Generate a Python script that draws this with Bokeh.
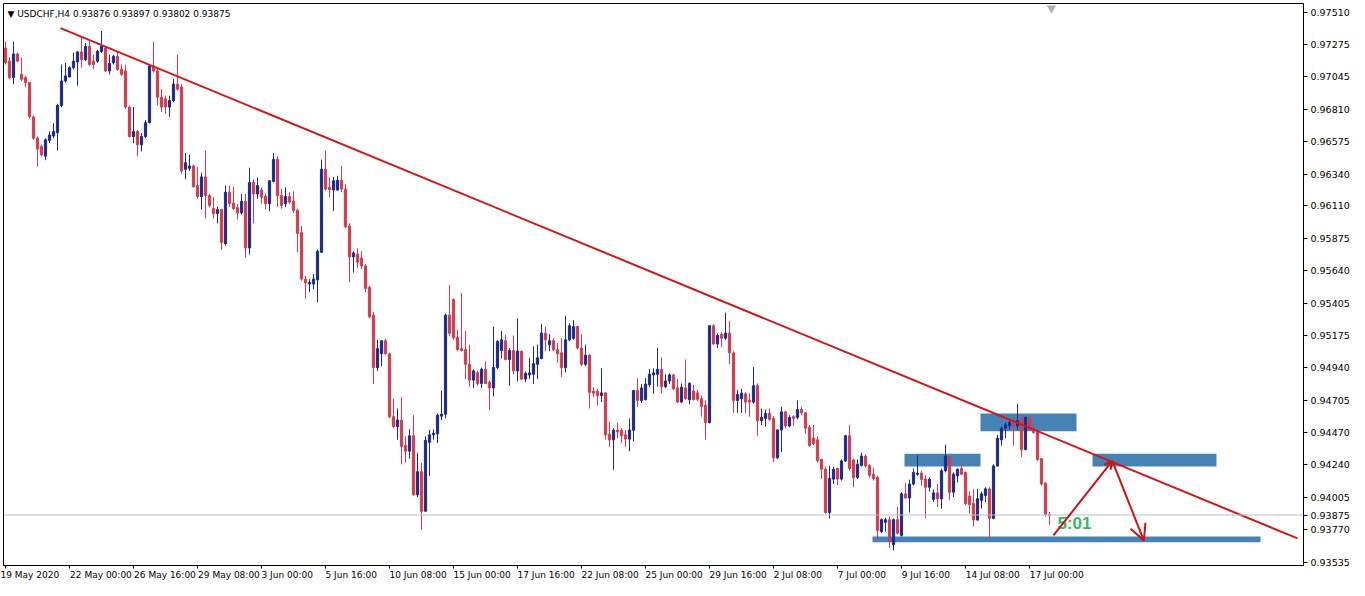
from bokeh.plotting import figure
from bokeh.models import (ColumnDataSource, FixedTicker, NumeralTickFormatter, Range1d,
                          Span, Label, Arrow, OpenHead)
from bokeh.embed import file_html
from bokeh.resources import INLINE
from bokeh.core.properties import value

symbol_header = "\u25bc USDCHF,H4  0.93876 0.93897 0.93802 0.93875"

opens = [0.97252,0.97157,0.97039,0.97209,0.97062,0.97039,0.97003,0.96754,0.96600,0.96541,
0.96470,0.96584,0.96616,0.96640,0.96837,0.97014,0.97043,0.97110,0.97152,0.97224,
0.97169,0.97263,0.97157,0.97157,0.97228,0.97252,0.97086,0.97145,0.97192,0.97098,
0.97086,0.96825,0.96612,0.96648,0.96552,0.96612,0.96712,0.97121,0.97086,0.96896,
0.96884,0.96825,0.96872,0.96991,0.96970,0.96375,0.96382,0.96399,0.96257,0.96178,
0.96320,0.96185,0.96090,0.96055,0.96083,0.95837,0.96209,0.96131,0.96097,0.96060,
0.96143,0.95806,0.96280,0.96197,0.96225,0.96180,0.96126,0.96287,0.96446,0.96185,
0.96126,0.96178,0.96145,0.96079,0.95917,0.95581,0.95546,0.95546,0.95576,0.95775,
0.96375,0.96244,0.96225,0.96225,0.96296,0.96232,0.95965,0.95742,0.95761,0.95733,
0.95676,0.95521,0.95320,0.94941,0.95041,0.95135,0.95041,0.94586,0.94515,0.94562,
0.94377,0.94337,0.94448,0.94021,0.94188,0.93903,0.94401,0.94455,0.94462,0.94590,
0.94604,0.95320,0.95434,0.95159,0.95078,0.95071,0.94965,0.94851,0.94903,0.94827,
0.94929,0.94835,0.94794,0.94941,0.95064,0.95135,0.95000,0.95064,0.94917,0.95059,
0.94858,0.94888,0.94893,0.94965,0.95007,0.95190,0.95107,0.95135,0.95071,0.95048,
0.94941,0.95142,0.95154,0.95237,0.95083,0.94965,0.95031,0.94771,0.94771,0.94739,
0.94758,0.94460,0.94419,0.94488,0.94488,0.94455,0.94424,0.94488,0.94775,0.94704,
0.94709,0.94817,0.94888,0.94893,0.94929,0.94803,0.94844,0.94888,0.94794,0.94692,
0.94794,0.94709,0.94771,0.94758,0.94716,0.94668,0.94543,0.95244,0.95112,0.95183,
0.95154,0.95190,0.95048,0.94704,0.94716,0.94751,0.94704,0.94692,0.94810,0.94557,
0.94574,0.94609,0.94574,0.94289,0.94490,0.94621,0.94519,0.94586,0.94581,0.94638,
0.94614,0.94510,0.94431,0.94419,0.94277,0.94206,0.93893,0.94135,0.94211,0.94135,
0.94266,0.94448,0.94273,0.94147,0.94234,0.94301,0.94234,0.94170,0.94147,0.93756,
0.93822,0.93841,0.93661,0.93841,0.93728,0.94028,0.93998,0.94099,0.94170,0.94178,
0.94135,0.94076,0.93988,0.94035,0.93993,0.94195,0.94296,0.94040,0.94159,0.94211,
0.94183,0.94012,0.93957,0.93839,0.93981,0.94017,0.94064,0.93851,0.94230,0.94419,
0.94503,0.94519,0.94550,0.94519,0.94574,0.94348,0.94581,0.94503,0.94479,0.94282,
0.94106,0.93876]

highs = [0.97299,0.97183,0.97299,0.97219,0.97183,0.97050,0.97006,0.96763,0.96614,0.96552,
0.96600,0.96650,0.96707,0.96849,0.97133,0.97145,0.97121,0.97219,0.97228,0.97334,
0.97288,0.97299,0.97204,0.97240,0.97375,0.97263,0.97204,0.97204,0.97228,0.97133,
0.97133,0.96837,0.96825,0.96659,0.96636,0.96730,0.97133,0.97299,0.97110,0.96955,
0.96908,0.96908,0.97027,0.97204,0.96991,0.96493,0.96481,0.96410,0.96392,0.96351,
0.96510,0.96197,0.96173,0.96102,0.96090,0.96257,0.96257,0.96249,0.96126,0.96197,
0.96197,0.96387,0.96303,0.96316,0.96244,0.96197,0.96296,0.96493,0.96470,0.96232,
0.96244,0.96209,0.96216,0.96090,0.95965,0.95605,0.95581,0.95617,0.95794,0.96446,
0.96510,0.96316,0.96320,0.96328,0.96399,0.96268,0.95984,0.95782,0.95804,0.95782,
0.95690,0.95533,0.95344,0.95142,0.95140,0.95150,0.95048,0.94716,0.94645,0.94728,
0.94444,0.94495,0.94597,0.94325,0.94254,0.94444,0.94490,0.94495,0.94609,0.94775,
0.95330,0.95538,0.95441,0.95214,0.95482,0.95206,0.95107,0.94929,0.94917,0.94941,
0.94988,0.94846,0.95237,0.95142,0.95206,0.95178,0.95083,0.95173,0.95297,0.95064,
0.94913,0.95012,0.95095,0.95107,0.95254,0.95237,0.95183,0.95154,0.95119,0.95154,
0.95315,0.95261,0.95285,0.95244,0.95183,0.95107,0.95036,0.94799,0.94787,0.94936,
0.94763,0.94550,0.94503,0.94543,0.94503,0.94490,0.94574,0.94780,0.94865,0.94822,
0.94865,0.94929,0.94936,0.95083,0.95016,0.94893,0.94898,0.94893,0.94858,0.94827,
0.95000,0.94835,0.94817,0.94780,0.94739,0.94704,0.95249,0.95254,0.95190,0.95197,
0.95339,0.95278,0.95059,0.94780,0.94787,0.94763,0.94756,0.94945,0.94827,0.94645,
0.94638,0.94645,0.94590,0.94495,0.94657,0.94628,0.94597,0.94597,0.94704,0.94657,
0.94621,0.94526,0.94526,0.94444,0.94282,0.94225,0.94230,0.94225,0.94218,0.94277,
0.94455,0.94526,0.94282,0.94277,0.94325,0.94313,0.94242,0.94218,0.94161,0.93851,
0.93856,0.93863,0.93851,0.93934,0.94040,0.94106,0.94131,0.94211,0.94306,0.94195,
0.94163,0.94147,0.94060,0.94099,0.94211,0.94384,0.94301,0.94183,0.94211,0.94249,
0.94188,0.94045,0.94060,0.94064,0.94045,0.94076,0.94076,0.94242,0.94455,0.94515,
0.94543,0.94562,0.94586,0.94680,0.94604,0.94586,0.94590,0.94538,0.94486,0.94289,
0.94111,0.93897]

lows = [0.97133,0.97027,0.96991,0.97147,0.97014,0.96968,0.96742,0.96588,0.96394,0.96470,
0.96441,0.96564,0.96600,0.96510,0.96825,0.97003,0.97039,0.97098,0.96979,0.97110,
0.97157,0.97121,0.97098,0.97145,0.97216,0.97080,0.97062,0.97133,0.97086,0.97050,
0.96813,0.96605,0.96564,0.96470,0.96505,0.96600,0.96707,0.97074,0.96837,0.96790,
0.96778,0.96754,0.96861,0.96943,0.96344,0.96303,0.96363,0.96244,0.96161,0.96083,
0.96019,0.96102,0.96019,0.95984,0.95794,0.95823,0.96102,0.96079,0.96012,0.96050,
0.95735,0.95759,0.95984,0.96161,0.96126,0.96083,0.96074,0.96280,0.96102,0.96090,
0.96102,0.96126,0.96060,0.95775,0.95569,0.95439,0.95486,0.95510,0.95415,0.95770,
0.96221,0.96173,0.96074,0.96221,0.96209,0.95948,0.95562,0.95628,0.95661,0.95654,
0.95486,0.95297,0.94822,0.94917,0.94952,0.95036,0.94574,0.94503,0.94419,0.94242,
0.94254,0.94282,0.94017,0.94005,0.93768,0.93898,0.94159,0.94419,0.94396,0.94562,
0.94574,0.95166,0.95142,0.95059,0.95059,0.94858,0.94803,0.94794,0.94810,0.94794,
0.94822,0.94633,0.94732,0.94929,0.95007,0.94993,0.94810,0.94893,0.94842,0.94851,
0.94835,0.94858,0.94822,0.94858,0.95000,0.95059,0.95059,0.95059,0.94977,0.94874,
0.94906,0.95130,0.95142,0.95071,0.94952,0.94952,0.94645,0.94728,0.94668,0.94692,
0.94419,0.94367,0.94202,0.94431,0.94396,0.94367,0.94337,0.94408,0.94657,0.94685,
0.94704,0.94803,0.94751,0.94803,0.94756,0.94794,0.94822,0.94780,0.94685,0.94685,
0.94709,0.94675,0.94704,0.94699,0.94586,0.94419,0.94538,0.95107,0.95083,0.95088,
0.95142,0.94965,0.94614,0.94614,0.94614,0.94614,0.94586,0.94680,0.94448,0.94526,
0.94515,0.94557,0.94259,0.94282,0.94330,0.94503,0.94510,0.94519,0.94567,0.94597,
0.94462,0.94367,0.94380,0.94254,0.94135,0.93886,0.93851,0.94099,0.94092,0.94124,
0.94259,0.94195,0.94076,0.94135,0.94225,0.94218,0.94147,0.94124,0.93699,0.93744,
0.93756,0.93637,0.93619,0.93733,0.93720,0.93993,0.93893,0.94088,0.94159,0.94088,
0.93851,0.94045,0.93969,0.93934,0.93922,0.94183,0.93981,0.94005,0.94111,0.94163,
0.93946,0.93886,0.93792,0.93835,0.93922,0.93969,0.93708,0.93845,0.94225,0.94377,
0.94431,0.94495,0.94377,0.94490,0.94296,0.94344,0.94486,0.94462,0.94266,0.94088,
0.93863,0.93802]

closes = [0.97145,0.97039,0.97209,0.97157,0.97027,0.97003,0.96754,0.96600,0.96522,0.96481,
0.96588,0.96623,0.96648,0.96837,0.97014,0.97050,0.97110,0.97157,0.97224,0.97169,
0.97263,0.97133,0.97133,0.97228,0.97263,0.97086,0.97140,0.97192,0.97098,0.97062,
0.96825,0.96612,0.96648,0.96552,0.96612,0.96712,0.97121,0.97086,0.96896,0.96825,
0.96825,0.96872,0.96991,0.96955,0.96363,0.96422,0.96399,0.96249,0.96178,0.96320,
0.96185,0.96114,0.96055,0.96083,0.95846,0.96209,0.96126,0.96090,0.96060,0.96143,
0.95806,0.96280,0.96197,0.96257,0.96173,0.96126,0.96292,0.96446,0.96185,0.96114,
0.96178,0.96138,0.96079,0.95912,0.95581,0.95553,0.95557,0.95581,0.95782,0.96375,
0.96232,0.96228,0.96292,0.96296,0.96232,0.95960,0.95742,0.95770,0.95704,0.95676,
0.95514,0.95308,0.94941,0.95078,0.95135,0.95041,0.94586,0.94515,0.94562,0.94372,
0.94337,0.94448,0.94021,0.94188,0.93903,0.94415,0.94455,0.94467,0.94597,0.94604,
0.95320,0.95190,0.95157,0.95071,0.95064,0.94965,0.94851,0.94917,0.94827,0.94929,
0.94827,0.94794,0.94941,0.95130,0.95142,0.95000,0.95064,0.94917,0.95059,0.94858,
0.94898,0.94903,0.94970,0.95012,0.95190,0.95142,0.95135,0.95071,0.95041,0.94941,
0.95142,0.95244,0.95237,0.95083,0.94965,0.95031,0.94763,0.94756,0.94739,0.94758,
0.94455,0.94419,0.94488,0.94476,0.94448,0.94424,0.94490,0.94775,0.94704,0.94794,
0.94822,0.94893,0.94903,0.94929,0.94803,0.94844,0.94888,0.94787,0.94692,0.94799,
0.94716,0.94827,0.94709,0.94712,0.94661,0.94543,0.95244,0.95112,0.95173,0.95154,
0.95190,0.95048,0.94704,0.94746,0.94756,0.94692,0.94692,0.94810,0.94557,0.94581,
0.94609,0.94567,0.94289,0.94490,0.94621,0.94519,0.94581,0.94574,0.94638,0.94614,
0.94503,0.94377,0.94391,0.94268,0.94206,0.93893,0.94140,0.94206,0.94135,0.94266,
0.94448,0.94211,0.94147,0.94242,0.94301,0.94230,0.94163,0.94140,0.93763,0.93841,
0.93841,0.93685,0.93841,0.93744,0.94028,0.93998,0.94099,0.94183,0.94178,0.94133,
0.94076,0.94133,0.94035,0.93993,0.94195,0.94301,0.94040,0.94170,0.94206,0.94170,
0.93957,0.93950,0.93839,0.93993,0.94028,0.94064,0.93851,0.94230,0.94431,0.94503,
0.94526,0.94543,0.94515,0.94557,0.94348,0.94581,0.94490,0.94472,0.94277,0.94099,
0.93879,0.93875]

x_tick_bars = [0, 16, 32, 48, 64, 80, 96, 112, 128, 144, 160, 176, 192, 208, 224, 240, 256]
x_tick_labels = ["19 May 2020", "22 May 00:00", "26 May 16:00", "29 May 08:00", "3 Jun 00:00",
                 "5 Jun 16:00", "10 Jun 08:00", "15 Jun 00:00", "17 Jun 16:00", "22 Jun 08:00",
                 "25 Jun 00:00", "29 Jun 16:00", "2 Jul 08:00", "7 Jul 00:00", "9 Jul 16:00",
                 "14 Jul 08:00", "17 Jul 00:00"]
y_tick_prices = [0.97510, 0.97275, 0.97045, 0.96810, 0.96575, 0.96340, 0.96110, 0.95875, 0.95640,
                 0.95405, 0.95175, 0.94940, 0.94705, 0.94470, 0.94240, 0.94005, 0.93770, 0.93535]

# drawn objects (bar index, price)
trend_bars = [13.75, 323.0]
trend_prices = [0.97396, 0.93706]
zone_left = [243.75, 224.75, 271.75, 216.75]
zone_right = [267.75, 243.75, 302.75, 313.75]
zone_bottom = [0.94481, 0.94225, 0.94225, 0.93678]
zone_top = [0.94609, 0.94318, 0.94318, 0.93720]
arrow_bars = [262.0, 276.7, 284.6]
arrow_prices = [0.93727, 0.94266, 0.93690]
timer_text = "5:01"
timer_bar = 263.0
timer_price = 0.93813

UP = "#1c2a88"
DOWN = "#d23c4c"
colors = [UP if c >= o else DOWN for o, c in zip(opens, closes)]
bars = list(range(len(closes)))
src = ColumnDataSource(dict(x=bars, open=opens, close=closes, high=highs, low=lows, color=colors))

FRAME_W = 1300
FRAME_H = 562
x0 = -0.5
x1 = x0 + FRAME_W / 4.0
p = figure(frame_width=FRAME_W, frame_height=FRAME_H, output_backend="svg", toolbar_location=None,
           x_range=Range1d(x0, x1), y_range=Range1d(0.93510, 0.97574),
           y_axis_location="right", min_border_left=3, min_border_top=3,
           min_border_right=0, min_border_bottom=0)
p.background_fill_color = "white"
p.border_fill_color = "white"
p.outline_line_color = "black"
p.outline_line_width = 1
p.xgrid.visible = False
p.ygrid.visible = False

font = "DejaVu Sans"

# left-aligned date labels: centred label with leading non-breaking spaces as wide as the text
# (the first one sits at the canvas edge, where Bokeh already keeps it inside)
char_em = {" ": 0.318, ":": 0.337, "M": 0.863, "a": 0.613, "y": 0.592, "J": 0.295,
           "u": 0.634, "n": 0.634, "l": 0.278}
def padded(t, i):
    if i == 0:
        return t
    w = sum(char_em.get(c, 0.636) for c in t)
    return "\u00a0" * int(round(w / 0.318)) + t

xa = p.xaxis[0]
xa.ticker = FixedTicker(ticks=x_tick_bars)
xa.major_label_overrides = {b: padded(l, i) for i, (b, l) in enumerate(zip(x_tick_bars, x_tick_labels))}
xa.major_tick_in = 0
xa.major_tick_out = 3
xa.minor_tick_out = 0
xa.minor_tick_in = 0
xa.major_label_standoff = 1
xa.major_label_text_font = font
xa.major_label_text_font_size = "9px"
xa.major_label_text_color = "black"
xa.axis_line_color = "black"
xa.major_tick_line_color = "black"

ya = p.yaxis[0]
ya.ticker = FixedTicker(ticks=y_tick_prices + [closes[-1]])
ya.formatter = NumeralTickFormatter(format="0.00000")
ya.major_tick_in = 0
ya.major_tick_out = 4
ya.minor_tick_in = 0
ya.minor_tick_out = 0
ya.major_label_standoff = 3
ya.major_label_text_font = font
ya.major_label_text_font_size = "9.5px"
ya.major_label_text_color = "black"
ya.axis_line_color = "black"

# zones
p.quad(left=zone_left, right=zone_right, bottom=zone_bottom, top=zone_top,
       fill_color="#4682b4", line_color="#4682b4", line_width=0)

# current price line
p.add_layout(Span(location=closes[-1], dimension="width", line_color="#c0c0c0", line_width=1))

# candles
p.segment(x0="x", y0="high", x1="x", y1="low", line_color="color", line_width=1, source=src)
p.vbar(x="x", width=0.55, top="open", bottom="close", fill_color="color", line_color="color",
       line_width=1, source=src)

# trend line
p.line(trend_bars, trend_prices, line_color="#cc1a1a", line_width=2)

# arrows
p.add_layout(Arrow(x_start=arrow_bars[0], y_start=arrow_prices[0], x_end=arrow_bars[1], y_end=arrow_prices[1],
                   line_color="#c81414", line_width=2,
                   end=OpenHead(size=8, line_color="#c81414", line_width=2)))
p.add_layout(Arrow(x_start=arrow_bars[1], y_start=arrow_prices[1], x_end=arrow_bars[2], y_end=arrow_prices[2],
                   line_color="#c81414", line_width=2,
                   end=OpenHead(size=16, line_color="#c81414", line_width=2)))

# timer text
p.text(x=[timer_bar], y=[timer_price], text=[timer_text], text_font=value("Liberation Sans"),
       text_font_style="bold", text_font_size="17px", text_color="#3cb371",
       text_align="left", text_baseline="middle")

# header
p.add_layout(Label(x=4, y=FRAME_H - 5, x_units="screen", y_units="screen", text=symbol_header,
                   text_font=font, text_font_size="9px", text_color="black",
                   text_baseline="top", text_align="left"))

# shift marker
p.scatter(x=[261.5], y=[0.97540], marker="inverted_triangle", size=8,
          fill_color="#b0b0b0", line_color="#b0b0b0")

open("out.html", "w").write(file_html(p, INLINE))
